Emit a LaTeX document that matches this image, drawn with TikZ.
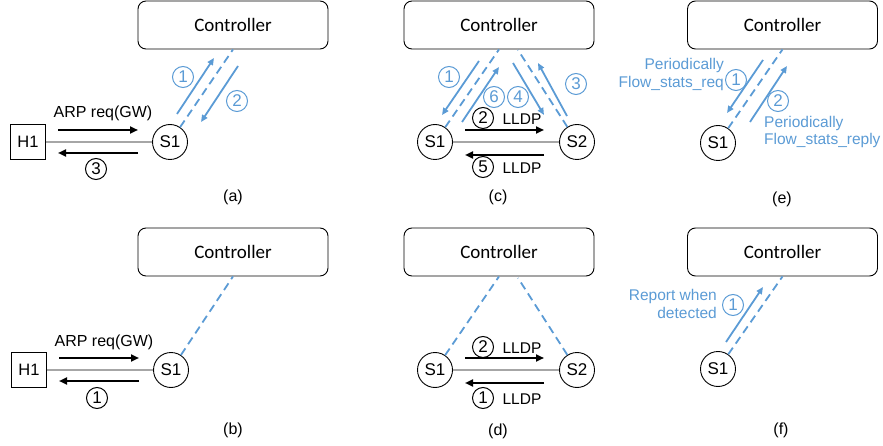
\documentclass[tikz,border=0pt]{standalone}
\usepackage{fontspec}
\setmainfont{Liberation Sans}
\newfontfamily\calibri{Carlito}
\usetikzlibrary{arrows.meta}
\definecolor{myblue}{HTML}{5B9BD5}
\definecolor{mygray}{HTML}{A6A6A6}
\begin{document}
\begin{tikzpicture}[x=1pt,y=-1pt,
 ctrl/.style={draw, line width=0.9pt, rounded corners=8pt, minimum width=190pt, minimum height=48pt, inner sep=0pt, font=\calibri\fontsize{19}{22}\selectfont},
 sw/.style={draw, circle, line width=0.9pt, minimum size=35pt, inner sep=0pt, font=\fontsize{17}{20}\selectfont},
 host/.style={draw, line width=0.9pt, minimum size=35pt, inner sep=0pt, font=\fontsize{16.5}{20}\selectfont},
 link/.style={mygray, line width=2pt},
 msg/.style={line width=2.5pt, -{Triangle[length=8pt,width=7pt]}},
 barr/.style={myblue, line width=1.8pt, -{Triangle[length=7pt,width=6pt]}},
 bdash/.style={myblue, line width=1.8pt, dash pattern=on 8pt off 5pt},
 txt/.style={inner sep=0pt, font=\fontsize{16}{19}\selectfont},
 ltxt/.style={inner sep=0pt, font=\fontsize{15.5}{18}\selectfont},
 btxt/.style={inner sep=0pt, text=myblue, font=\fontsize{15.5}{17.5}\selectfont},
 cnum/.style={draw, circle, line width=1pt, minimum size=21pt, inner sep=0pt, font=\fontsize{17}{17}\selectfont},
 bnum/.style={cnum, draw=myblue, text=myblue},
 sublabel/.style={inner sep=0pt, font=\fontsize{16}{19}\selectfont}
]
\useasboundingbox (0,0) rectangle (883,446);

% ---------- (a)
\node[ctrl] (ca) at (233,25) {Controller};
\node[host] (ha) at (28,142) {H1};
\node[sw] (sa) at (170,142) {S1};
\draw[link] (ha) -- (sa);
\coordinate (a1s) at (58,130); \coordinate (a1e) at (138,130);
\coordinate (a2s) at (138,153); \coordinate (a2e) at (58,153);
\draw[msg] (a1s) -- (a1e);
\draw[msg] (a2s) -- (a2e);
\node[txt] (arpa) at (103,113) {ARP req(GW)};
\node[cnum] (na3) at (96,169) {3};
\draw[bdash] (sa) -- (ca.south);
\coordinate (a3s) at (177,114); \coordinate (a3e) at (214,58);
\coordinate (a4s) at (238,66); \coordinate (a4e) at (201,122);
\draw[barr] (a3s) -- (a3e);
\draw[barr] (a4s) -- (a4e);
\node[bnum] (na1) at (183,77) {1};
\node[bnum] (na2) at (237,101) {2};
\node[sublabel] (capa) at (233,197) {(a)};

% ---------- (b)
\node[ctrl] (cb) at (233,252) {Controller};
\node[host] (hb) at (29,370) {H1};
\node[sw] (sb) at (171,370) {S1};
\draw[link] (hb) -- (sb);
\coordinate (b1s) at (59,358); \coordinate (b1e) at (139,358);
\coordinate (b2s) at (139,381); \coordinate (b2e) at (59,381);
\draw[msg] (b1s) -- (b1e);
\draw[msg] (b2s) -- (b2e);
\node[txt] (arpb) at (104,342) {ARP req(GW)};
\node[cnum] (nb1) at (97,398) {1};
\draw[bdash] (sb) -- (cb.south);
\node[sublabel] (capb) at (233,430) {(b)};

% ---------- (c)
\node[ctrl] (cc) at (499,25) {Controller};
\node[sw] (sc1) at (435,142) {S1};
\node[sw] (sc2) at (577,142) {S2};
\draw[link] (sc1) -- (sc2);
\coordinate (c1s) at (465,130); \coordinate (c1e) at (544,130);
\coordinate (c2s) at (544,155); \coordinate (c2e) at (465,155);
\draw[msg] (c1s) -- (c1e);
\draw[msg] (c2s) -- (c2e);
\node[cnum] (nc2) at (483,118) {2};
\node[ltxt] (lc2) at (522,119) {LLDP};
\node[cnum] (nc5) at (483,167) {5};
\node[ltxt] (lc5) at (522,168) {LLDP};
\coordinate (cce) at (518,50);
\draw[bdash] (sc1) -- (cc.south);
\draw[bdash] (sc2) -- (cce);
\coordinate (c3s) at (479,61); \coordinate (c3e) at (442,115);
\coordinate (c4s) at (462,122); \coordinate (c4e) at (499,67);
\coordinate (c5s) at (513,63); \coordinate (c5e) at (544,115);
\coordinate (c6s) at (567,116); \coordinate (c6e) at (538,63);
\draw[barr] (c3s) -- (c3e);
\draw[barr] (c4s) -- (c4e);
\draw[barr] (c5s) -- (c5e);
\draw[barr] (c6s) -- (c6e);
\node[bnum] (nc1) at (449,77) {1};
\node[bnum] (nc6) at (494,97) {6};
\node[bnum] (nc4) at (518,97) {4};
\node[bnum] (nc3) at (576,84) {3};
\node[sublabel] (capc) at (498,197) {(c)};

% ---------- (d)
\node[ctrl] (cd) at (499,252) {Controller};
\node[sw] (sd1) at (435,370) {S1};
\node[sw] (sd2) at (577,370) {S2};
\draw[link] (sd1) -- (sd2);
\coordinate (d1s) at (465,358); \coordinate (d1e) at (544,358);
\coordinate (d2s) at (544,383); \coordinate (d2e) at (465,383);
\draw[msg] (d1s) -- (d1e);
\draw[msg] (d2s) -- (d2e);
\node[cnum] (nd2) at (483,347) {2};
\node[ltxt] (ld2) at (522,348) {LLDP};
\node[cnum] (nd1) at (483,398) {1};
\node[ltxt] (ld1) at (522,399) {LLDP};
\coordinate (cde) at (518,278);
\draw[bdash] (sd1) -- (cd.south);
\draw[bdash] (sd2) -- (cde);
\node[sublabel] (capd) at (498,431) {(d)};

% ---------- (e)
\node[ctrl] (ce) at (782.5,25) {Controller};
\node[sw] (se) at (718,143) {S1};
\draw[bdash] (se) -- (ce.south);
\coordinate (e1s) at (763,60); \coordinate (e1e) at (727,113);
\coordinate (e2s) at (750,122); \coordinate (e2e) at (787,66);
\draw[barr] (e1s) -- (e1e);
\draw[barr] (e2s) -- (e2e);
\node[bnum] (ne1) at (736,80) {1};
\node[bnum] (ne2) at (778,101) {2};
\node[btxt, align=right, anchor=east] (te1) at (724,74.5) {Periodically\\Flow\_stats\_req};
\node[btxt, align=left, anchor=west] (te2) at (764,132) {Periodically\\Flow\_stats\_reply};
\node[sublabel] (cape) at (782,199) {(e)};

% ---------- (f)
\node[ctrl] (cf) at (782.5,252) {Controller};
\node[sw] (sf) at (718,369) {S1};
\draw[bdash] (sf) -- (cf.south);
\coordinate (f1s) at (726,342); \coordinate (f1e) at (763,287);
\draw[barr] (f1s) -- (f1e);
\node[bnum] (nf1) at (733,305) {1};
\node[btxt, align=right, anchor=east] (tf1) at (717,304) {Report when\\detected};
\node[sublabel] (capf) at (781,430) {(f)};
\end{tikzpicture}
\end{document}
